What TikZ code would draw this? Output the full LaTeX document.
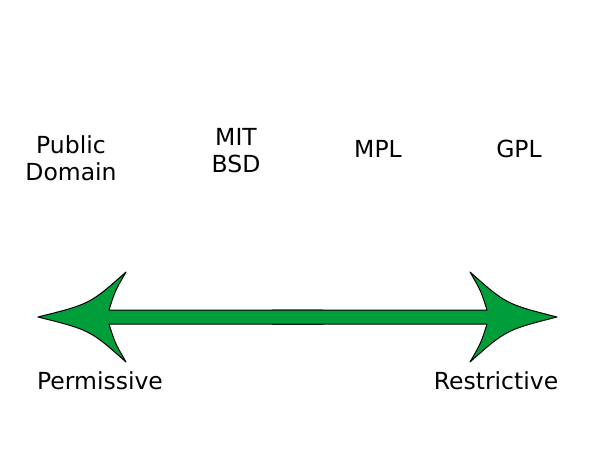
\documentclass[tikz,border=0pt]{standalone}
\usepackage{fontspec}
\setmainfont{DejaVu Sans}
\definecolor{licgreen}{RGB}{0,158,58}

\begin{document}
\begin{tikzpicture}[x=1pt,y=-1pt,
  lic/.style={font=\fontsize{23.5}{27}\selectfont,inner sep=0pt,align=center},
  spread/.style={fill=licgreen,draw=black,line width=1pt,line join=round}]
  \useasboundingbox (0,0) rectangle (600,450);
  % licences
  \node[lic] (pd)  at (71,158)  {Public\\Domain};
  \node[lic] (mit) at (236,151) {MIT\\BSD};
  \node[lic,anchor=base] (mpl) at (378,157) {MPL};
  \node[lic,anchor=base] (gpl) at (519,157) {GPL};
  % two arrows meeting in the middle
  \path[spread] (323,310) -- (109,310) .. controls (115,291) .. (126,272)
    .. controls (90,304) .. (38,317) .. controls (90,330) .. (126,362)
    .. controls (115,343) .. (109,324) -- (323,324);
  \path[spread] (272,310) -- (487,310) .. controls (481,291) .. (470,272)
    .. controls (506,304) .. (557,317) .. controls (506,330) .. (470,362)
    .. controls (481,343) .. (487,324) -- (272,324);
  % ends of the scale
  \node[lic,anchor=base] (perm) at (100,389) {Permissive};
  \node[lic,anchor=base] (restr) at (496,389) {Restrictive};
\end{tikzpicture}
\end{document}
